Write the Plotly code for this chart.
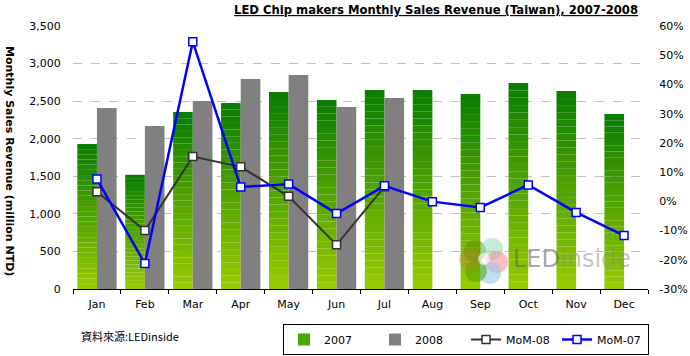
import plotly.graph_objects as go

months = ["Jan", "Feb", "Mar", "Apr", "May", "Jun", "Jul", "Aug", "Sep", "Oct", "Nov", "Dec"]
rev_2007 = [1930, 1520, 2356, 2475, 2622, 2515, 2648, 2648, 2595, 2741, 2635, 2329]
rev_2008 = [2409, 2169, 2502, 2795, 2848, 2422, 2542]
mom_08 = [3.3, -10.0, 15.3, 11.8, 1.7, -14.9, 5.0]
mom_07 = [7.6, -21.3, 54.6, 4.9, 5.9, -4.2, 5.3, -0.1, -2.1, 5.6, -3.8, -11.7]
y2_ticks = [-30, -20, -10, 0, 10, 20, 30, 40, 50, 60]
y2_labels = ["-30%", "-20%", "-10%", "0%", "10%", "20%", "30%", "40%", "50%", "60%"]

W, H = 690, 356
PL, PR, PT, PB = 73, 648, 26, 289
FONT = "DejaVu Sans, Verdana, sans-serif"


def px(x):
    return (x - PL) / (PR - PL)


def py(y):
    return (PB - y) / (PB - PT)


def mix(c1, c2, t):
    return "rgb(%d,%d,%d)" % tuple(round(a + (b - a) * t) for a, b in zip(c1, c2))


bottom_c = (0x99, 0xCC, 0x00)
top_c = (0x08, 0x7C, 0x00)
N = 28

fig = go.Figure()

# 2007 bars drawn as a per-bar vertical gradient (stacked slices of each value)
for k in range(N):
    t = (k + 0.5) / N
    fig.add_trace(go.Bar(
        x=months,
        y=[v / N for v in rev_2007],
        base=[v * k / N for v in rev_2007],
        offsetgroup="a",
        marker=dict(color=mix(bottom_c, top_c, t), line=dict(width=0)),
        name="2007",
        legendgroup="2007",
        showlegend=(k == N // 2),
        hoverinfo="skip",
    ))

fig.add_trace(go.Bar(
    x=months[:len(rev_2008)], y=rev_2008, offsetgroup="b",
    marker=dict(color="#808080", line=dict(width=0)), name="2008",
))

fig.add_trace(go.Scatter(
    x=months[:len(mom_08)], y=mom_08, yaxis="y2", mode="lines+markers", name="MoM-08",
    line=dict(color="#333333", width=2),
    marker=dict(symbol="square", size=8, color="white", line=dict(color="#333333", width=1.5)),
))
fig.add_trace(go.Scatter(
    x=months, y=mom_07, yaxis="y2", mode="lines+markers", name="MoM-07",
    line=dict(color="#0000FF", width=2.5),
    marker=dict(symbol="square", size=8, color="white", line=dict(color="#0000FF", width=1.5)),
))

shapes = []
# watermark logo petals
cx, cy = 484, 259
petals = [
    (-9, -8, "rgba(90,150,0,0.55)"),
    (8, -10, "rgba(150,220,190,0.55)"),
    (13, 3, "rgba(240,130,140,0.5)"),
    (6, 14, "rgba(140,200,235,0.55)"),
    (-8, 12, "rgba(80,160,0,0.55)"),
    (-14, 0, "rgba(200,120,60,0.35)"),
]
for dx, dy, col in petals:
    r = 11
    shapes.append(dict(type="circle", xref="paper", yref="paper",
                       x0=px(cx + dx - r), x1=px(cx + dx + r),
                       y0=py(cy + dy + r), y1=py(cy + dy - r),
                       fillcolor=col, line=dict(width=0), layer="above"))
shapes.append(dict(type="circle", xref="paper", yref="paper",
                   x0=px(cx - 6), x1=px(cx + 6), y0=py(cy + 6), y1=py(cy - 6),
                   fillcolor="rgba(255,255,255,0.6)", line=dict(width=0), layer="above"))

annotations = [
    dict(text="<b>Monthly Sales Revenue (million NTD)</b>", textangle=90,
         xref="paper", yref="paper", x=px(10), y=py(161), showarrow=False,
         xanchor="center", yanchor="middle", font=dict(family=FONT, size=11, color="black")),
    dict(text="資料來源:LEDinside", xref="paper", yref="paper", x=px(79), y=py(336),
         xanchor="left", yanchor="middle", showarrow=False,
         font=dict(family="Noto Sans CJK TC, serif", size=11, color="black")),
    dict(text="<span style='color:rgba(90,90,90,0.55)'>LED</span><span style='color:rgba(140,140,140,0.5)'>inside</span>",
         xref="paper", yref="paper", x=px(511), y=py(259), xanchor="left", yanchor="middle",
         showarrow=False, font=dict(family=FONT, size=24)),
]

fig.update_layout(
    width=W, height=H,
    margin=dict(l=PL, r=W - PR, t=PT, b=H - PB, autoexpand=False),
    paper_bgcolor="white", plot_bgcolor="white",
    font=dict(family=FONT, size=11, color="black"),
    title=dict(text="<b><u>LED Chip makers Monthly Sales Revenue (Taiwan), 2007-2008</u></b>",
               xref="container", yref="container", x=638 / W, y=1 - 10 / H,
               xanchor="right", yanchor="middle", font=dict(family=FONT, size=11.6, color="black")),
    barmode="group", bargap=0.18, bargroupgap=0,
    xaxis=dict(categoryorder="array", categoryarray=months, range=[-0.5, len(months) - 0.5],
               showline=True, linecolor="black",
               linewidth=1, ticks="outside", tickson="boundaries", ticklen=4, tickcolor="black",
               ticklabelstandoff=5, showgrid=False, tickfont=dict(size=11)),
    yaxis=dict(range=[0, 3500], dtick=500, tickformat=",", showgrid=True, gridcolor="#c0c0c0",
               griddash="dash", gridwidth=1, zeroline=False, showline=False,
               ticks="outside", ticklen=9, tickcolor="rgba(0,0,0,0)"),
    yaxis2=dict(range=[-30, 60], overlaying="y", side="right", tickvals=y2_ticks,
                ticktext=y2_labels, showgrid=False, zeroline=False, showline=False,
                ticks="outside", ticklen=8, tickcolor="rgba(0,0,0,0)"),
    legend=dict(orientation="h", x=px(283), y=py(324), xanchor="left", yanchor="top",
                bordercolor="black", borderwidth=1, bgcolor="white", traceorder="normal",
                entrywidth=46, entrywidthmode="pixels",
                font=dict(family=FONT, size=11)),
    shapes=shapes,
    annotations=annotations,
)

fig.write_html("out.html", config={"displayModeBar": False},
               post_script="document.body.style.margin='0';")
